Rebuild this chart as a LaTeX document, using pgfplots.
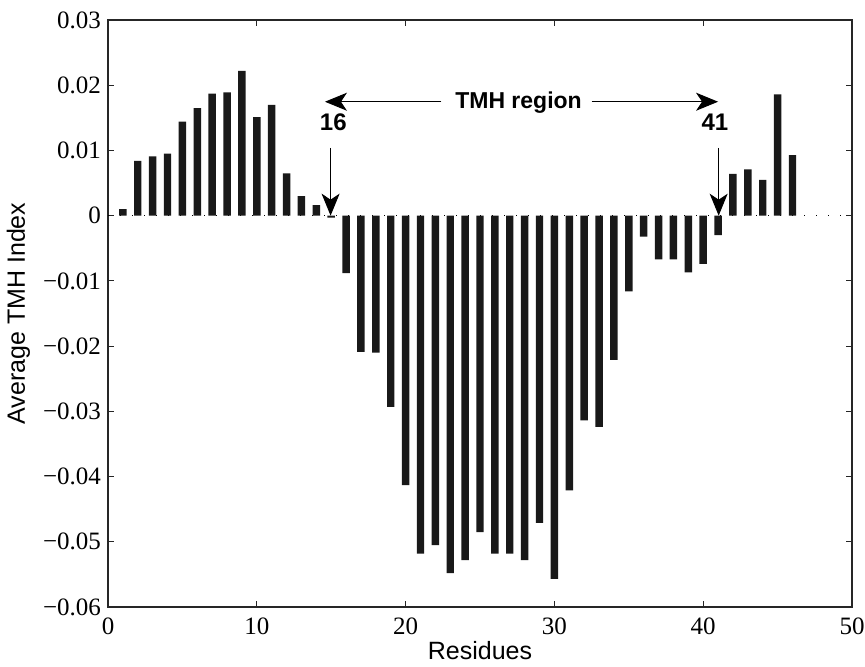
\documentclass[border=0pt]{standalone}
\usepackage{fontspec}
\setmainfont{Liberation Serif}
\setsansfont{Liberation Sans}
\usepackage{pgfplots}
\pgfplotsset{compat=1.18}
\usetikzlibrary{arrows.meta}
\begin{document}
\begin{tikzpicture}
\path[use as bounding box] (-54pt,-29.5pt) rectangle (378.5pt,303.5pt);
\begin{axis}[
  at={(0,0)}, anchor=south west,
  scale only axis, width=372pt, height=293.5pt,
  xmin=0, xmax=50, ymin=-0.06, ymax=0.03,
  xtick={0,10,20,30,40,50},
  ytick={-0.06,-0.05,-0.04,-0.03,-0.02,-0.01,0,0.01,0.02,0.03},
  yticklabels={−0.06,−0.05,−0.04,−0.03,−0.02,−0.01,0,0.01,0.02,0.03},
  scaled y ticks=false,
  tick align=inside, tick pos=both,
  major tick length=3pt,
  axis line style={line width=0.6pt, color=black!85},
  every tick/.style={line width=0.5pt, color=black!85},
  ticklabel style={font=\fontsize{12.5}{14}\selectfont},
  xticklabel style={yshift=-2pt},
  /pgf/number format/assume math mode=true,
  xlabel={Residues},
  ylabel={Average TMH Index},
  xlabel style={font=\sffamily\fontsize{12.5}{14}\selectfont, at={(axis description cs:0.5,0)}, anchor=center, yshift=-22pt},
  ylabel style={font=\sffamily\fontsize{12.5}{14}\selectfont, at={(axis description cs:-0.1203,0.5)}, anchor=center, rotate=0},
  clip=false,
]
\addplot[black, line width=0.5pt, dash pattern=on 0.6pt off 5.4pt] coordinates {(0,0) (50,0)};
\addplot[ybar, bar width=0.5, fill=black!90, draw=none] coordinates {
(1,0.0010) (2,0.0084) (3,0.0091) (4,0.0095) (5,0.0144) (6,0.0165) (7,0.0187) (8,0.0189)
(9,0.0222) (10,0.0151) (11,0.0170) (12,0.0065) (13,0.0030) (14,0.0016) (15,-0.0003)
(16,-0.0088) (17,-0.0209) (18,-0.0210) (19,-0.0293) (20,-0.0413) (21,-0.0518) (22,-0.0505)
(23,-0.0548) (24,-0.0528) (25,-0.0485) (26,-0.0518) (27,-0.0518) (28,-0.0528) (29,-0.0471)
(30,-0.0557) (31,-0.0421) (32,-0.0314) (33,-0.0324) (34,-0.0221) (35,-0.0116) (36,-0.0032)
(37,-0.0067) (38,-0.0067) (39,-0.0087) (40,-0.0074) (41,-0.0030) (42,0.0064) (43,0.0071)
(44,0.0055) (45,0.0186) (46,0.0093)
};
\node[font=\sffamily\bfseries\fontsize{11.5}{13}\selectfont] at (axis cs:27.59,0.0174) {TMH region};
\node[font=\sffamily\bfseries\fontsize{12}{14}\selectfont] at (axis cs:15.14,0.0143) {16};
\node[font=\sffamily\bfseries\fontsize{12}{14}\selectfont] at (axis cs:40.79,0.0143) {41};
\draw[line width=0.5pt, -{Stealth[length=11pt, width=9pt, inset=3pt]}] (axis cs:22.4,0.01747) -- (axis cs:14.58,0.01747);
\draw[line width=0.5pt, -{Stealth[length=11pt, width=9pt, inset=3pt]}] (axis cs:32.5,0.01747) -- (axis cs:41.0,0.01747);
\draw[line width=0.5pt, -{Stealth[length=11pt, width=9pt, inset=3pt]}] (axis cs:14.96,0.0104) -- (axis cs:14.96,0.0);
\draw[line width=0.5pt, -{Stealth[length=11pt, width=9pt, inset=3pt]}] (axis cs:41.04,0.0104) -- (axis cs:41.04,0.0);
\end{axis}
\end{tikzpicture}
\end{document}
